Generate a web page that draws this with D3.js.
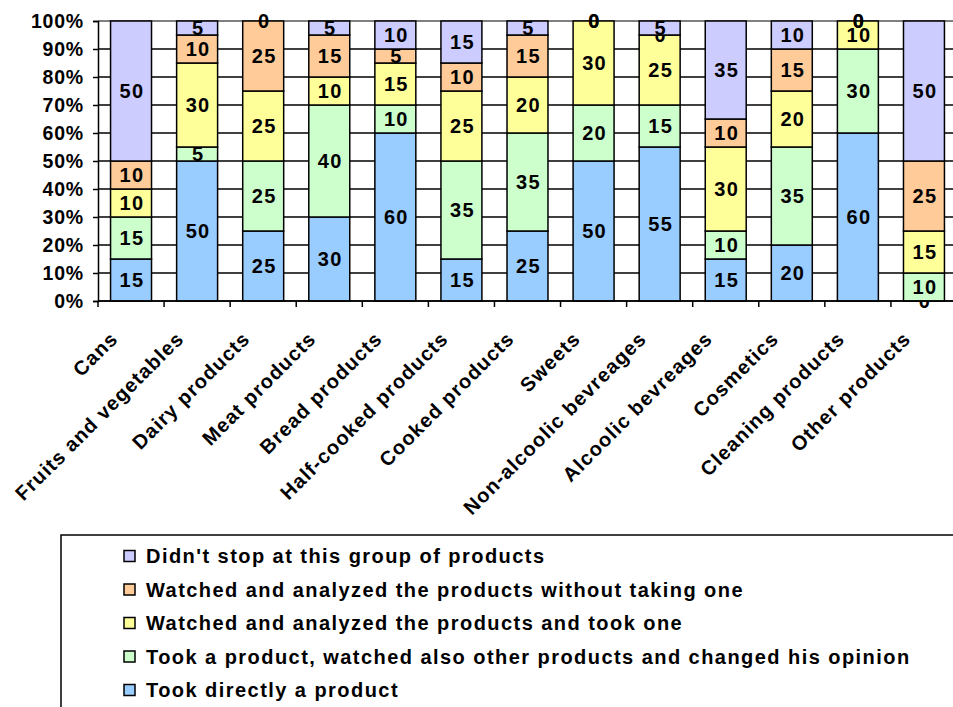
<!DOCTYPE html>
<html>
<head>
<meta charset="utf-8">
<script src="https://cdn.jsdelivr.net/npm/d3@7"></script>
<style>
  body { margin: 0; background: #fff; }
  text { font-family: "Liberation Sans", Arial, sans-serif; font-weight: bold; }
</style>
</head>
<body>
<div id="chart"></div>
<script>
// product groups along the x axis
const categories = ["Cans", "Fruits and vegetables", "Dairy products", "Meat products",
  "Bread products", "Half-cooked products", "Cooked products", "Sweets",
  "Non-alcoolic bevreages", "Alcoolic bevreages", "Cosmetics", "Cleaning products",
  "Other products"];

// shares in %, stacked bottom to top
const tookDirectly = [15, 50, 25, 30, 60, 15, 25, 50, 55, 15, 20, 60, 0];
const changedOpinion = [15, 5, 25, 40, 10, 35, 35, 20, 15, 10, 35, 30, 10];
const analyzedTook = [10, 30, 25, 10, 15, 25, 20, 30, 25, 30, 20, 10, 15];
const analyzedNoTake = [10, 10, 25, 15, 5, 10, 15, 0, 0, 10, 15, 0, 25];
const didntStop = [50, 5, 0, 5, 10, 15, 5, 0, 5, 35, 10, 0, 50];

const seriesNames = [
  "Took directly a product",
  "Took a product, watched also other products and changed his opinion",
  "Watched and analyzed the products and took one",
  "Watched and analyzed the products without taking one",
  "Didn't stop at this group of products"
];
const seriesValues = [tookDirectly, changedOpinion, analyzedTook, analyzedNoTake, didntStop];
const colors = ["#99CCFF", "#CCFFCC", "#FFFF99", "#FFCC99", "#CCCCFF"];

const yTicks = [0, 10, 20, 30, 40, 50, 60, 70, 80, 90, 100];

const W = 953, H = 707;
const svg = d3.select("#chart").append("svg")
  .attr("width", W).attr("height", H);

const x = d3.scaleBand()
  .domain(categories)
  .range([98, 957])
  .paddingInner(0.38)
  .paddingOuter(0.19);

const y = d3.scaleLinear().domain([0, 100]).range([301, 21]);

// rows for d3.stack
const rows = categories.map((c, i) => {
  const r = {cat: c};
  seriesNames.forEach((s, k) => r[s] = seriesValues[k][i]);
  return r;
});
const stacked = d3.stack().keys(seriesNames)(rows);

// gridlines
svg.append("g").selectAll("line")
  .data(yTicks.filter(d => d < 100))
  .join("line")
  .attr("x1", 98).attr("x2", W)
  .attr("y1", d => y(d)).attr("y2", d => y(d))
  .attr("stroke", "#000").attr("stroke-width", 1.3);

// plot area top border
svg.append("line")
  .attr("x1", 98).attr("x2", W)
  .attr("y1", y(100)).attr("y2", y(100))
  .attr("stroke", "#808080").attr("stroke-width", 2);

// bars
const layers = svg.append("g").selectAll("g")
  .data(stacked)
  .join("g")
  .attr("fill", (d, i) => colors[i]);

layers.selectAll("rect")
  .data(d => d)
  .join("rect")
  .attr("x", d => x(d.data.cat))
  .attr("width", x.bandwidth())
  .attr("y", d => y(d[1]))
  .attr("height", d => y(d[0]) - y(d[1]))
  .attr("stroke", "#000")
  .attr("stroke-width", 1.5);

// y axis
const yAxis = svg.append("g")
  .attr("transform", "translate(98,0)")
  .call(d3.axisLeft(y).tickValues(yTicks).tickSize(5).tickPadding(9)
    .tickFormat(d => d + "%"));
yAxis.select(".domain").attr("stroke", "#000").attr("stroke-width", 1.5);
yAxis.selectAll(".tick line").attr("stroke", "#000").attr("stroke-width", 1.5);
yAxis.selectAll(".tick text")
  .attr("font-size", 19.5).attr("font-family", null)
  .style("letter-spacing", "0.8px").attr("fill", "#000");

// x axis line and ticks at band boundaries
svg.append("line")
  .attr("x1", 98).attr("x2", W)
  .attr("y1", y(0)).attr("y2", y(0))
  .attr("stroke", "#000").attr("stroke-width", 1.5);

const gap = (x.step() - x.bandwidth()) / 2;
svg.append("g").selectAll("line")
  .data(categories)
  .join("line")
  .attr("x1", d => x(d) - gap).attr("x2", d => x(d) - gap)
  .attr("y1", y(0)).attr("y2", y(0) + 6)
  .attr("stroke", "#000").attr("stroke-width", 1.5);

// category labels
svg.append("g").selectAll("text")
  .data(categories)
  .join("text")
  .attr("transform", d => `translate(${x(d) + x.bandwidth() / 2 - 12},340) rotate(-45)`)
  .attr("text-anchor", "end")
  .attr("font-size", 20)
  .style("letter-spacing", "1.1px")
  .text(d => d);

// value labels
layers.selectAll("text")
  .data(d => d)
  .join("text")
  .attr("x", d => x(d.data.cat) + x.bandwidth() / 2 + 1)
  .attr("y", d => y((d[0] + d[1]) / 2))
  .attr("dy", "0.36em")
  .attr("text-anchor", "middle")
  .attr("font-size", 20)
  .attr("fill", "#000")
  .style("letter-spacing", "1.3px")
  .text(d => d[1] - d[0]);

// legend
const legend = svg.append("g");
legend.append("rect")
  .attr("x", 61).attr("y", 535)
  .attr("width", W).attr("height", 300)
  .attr("fill", "#fff").attr("stroke", "#000").attr("stroke-width", 1.5);

const legendOrder = [4, 3, 2, 1, 0];
const items = legend.selectAll("g.item")
  .data(legendOrder)
  .join("g")
  .attr("class", "item")
  .attr("transform", (k, i) => `translate(123,${563 + i * 33.5})`);

items.append("rect")
  .attr("x", 1).attr("y", -12.5)
  .attr("width", 11).attr("height", 11)
  .attr("fill", k => colors[k])
  .attr("stroke", "#000").attr("stroke-width", 1.5);

items.append("text")
  .attr("x", 23)
  .attr("font-size", 20)
  .style("letter-spacing", "1.45px")
  .text(k => seriesNames[k]);
</script>
</body>
</html>
